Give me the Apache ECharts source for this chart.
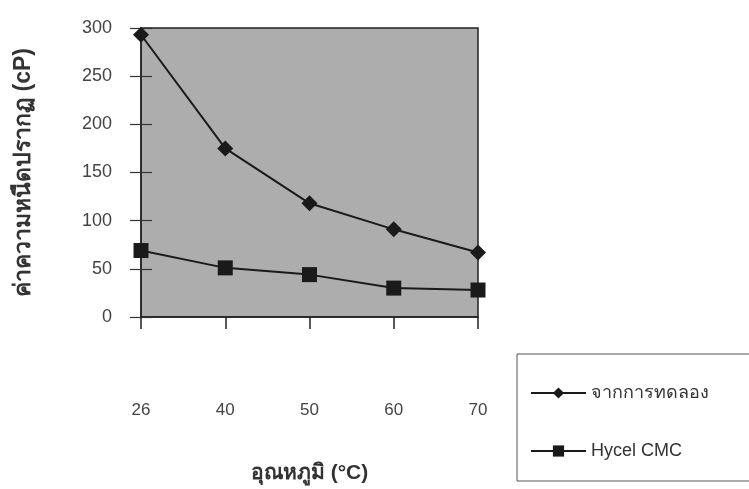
<!DOCTYPE html>
<html>
<head>
<meta charset="utf-8">
<script src="https://cdn.jsdelivr.net/npm/echarts@6/dist/echarts.min.js"></script>
<style>
  html, body { margin: 0; padding: 0; background: #fff; }
  #chart { width: 749px; height: 489px; }
</style>
</head>
<body>
<div id="chart"></div>
<script>
// ข้อมูลจากกราฟ
const temperatures = ['26', '40', '50', '60', '70'];
const experimentValues = [293, 175, 118, 91, 67];
const hycelValues = [69, 51, 44, 30, 28];
const seriesNames = ['จากการทดลอง', 'Hycel CMC'];

const chart = echarts.init(document.getElementById('chart'));

const font = '"Liberation Sans", Arial, sans-serif';
const thaiFont = '"Liberation Sans", "Noto Sans", "DejaVu Sans", sans-serif';

const option = {
  animation: false,
  grid: {
    left: 141, right: 271, top: 28, bottom: 170,
    show: true,
    backgroundColor: '#adadad',
    borderColor: '#222',
    borderWidth: 1.5
  },
  legend: {
    orient: 'vertical',
    left: 517,
    top: 354,
    padding: [30, 80, 21, 13],
    itemGap: 40,
    itemWidth: 55,
    itemHeight: 14,
    borderColor: '#555',
    borderWidth: 1,
    textStyle: { fontFamily: thaiFont, fontSize: 18, color: '#333' },
    data: seriesNames
  },
  xAxis: {
    type: 'category',
    data: temperatures,
    boundaryGap: false,
    axisLine: { lineStyle: { color: '#222', width: 1.5 } },
    axisTick: { show: true, length: 12, lineStyle: { color: '#222', width: 1.5 } },
    axisLabel: { margin: 85, fontFamily: font, fontSize: 17, color: '#444' },
    name: 'อุณหภูมิ (°C)',
    nameLocation: 'middle',
    nameGap: 146,
    nameTextStyle: { fontFamily: thaiFont, fontSize: 21, fontWeight: 'bold', color: '#333' }
  },
  yAxis: [
    {
      type: 'value',
      min: 0, max: 300, interval: 50,
      axisLine: { show: true, lineStyle: { color: '#222', width: 1.5 } },
      axisTick: { show: true, length: 11, lineStyle: { color: '#333', width: 1.2 } },
      splitLine: { show: false },
      axisLabel: { margin: 29, fontFamily: font, fontSize: 18, color: '#444' },
      name: 'ค่าความหนืดปรากฏ (cP)',
      nameLocation: 'middle',
      nameGap: 106,
      nameTextStyle: { fontFamily: thaiFont, fontSize: 23, fontWeight: 'bold', color: '#333' }
    },
    {
      type: 'value',
      position: 'left',
      min: 0, max: 300, interval: 50,
      axisLine: { show: false },
      axisTick: { show: true, inside: true, length: 11, lineStyle: { color: '#333', width: 1.2 } },
      splitLine: { show: false },
      axisLabel: { show: false }
    }
  ],
  series: [
    {
      name: seriesNames[0],
      type: 'line',
      data: experimentValues,
      symbol: 'diamond',
      symbolSize: 16,
      lineStyle: { color: '#1a1a1a', width: 2 },
      itemStyle: { color: '#1a1a1a' }
    },
    {
      name: seriesNames[1],
      type: 'line',
      data: hycelValues,
      symbol: 'rect',
      symbolSize: 15,
      lineStyle: { color: '#1a1a1a', width: 2 },
      itemStyle: { color: '#1a1a1a' }
    }
  ]
};

chart.setOption(option);
</script>
</body>
</html>
